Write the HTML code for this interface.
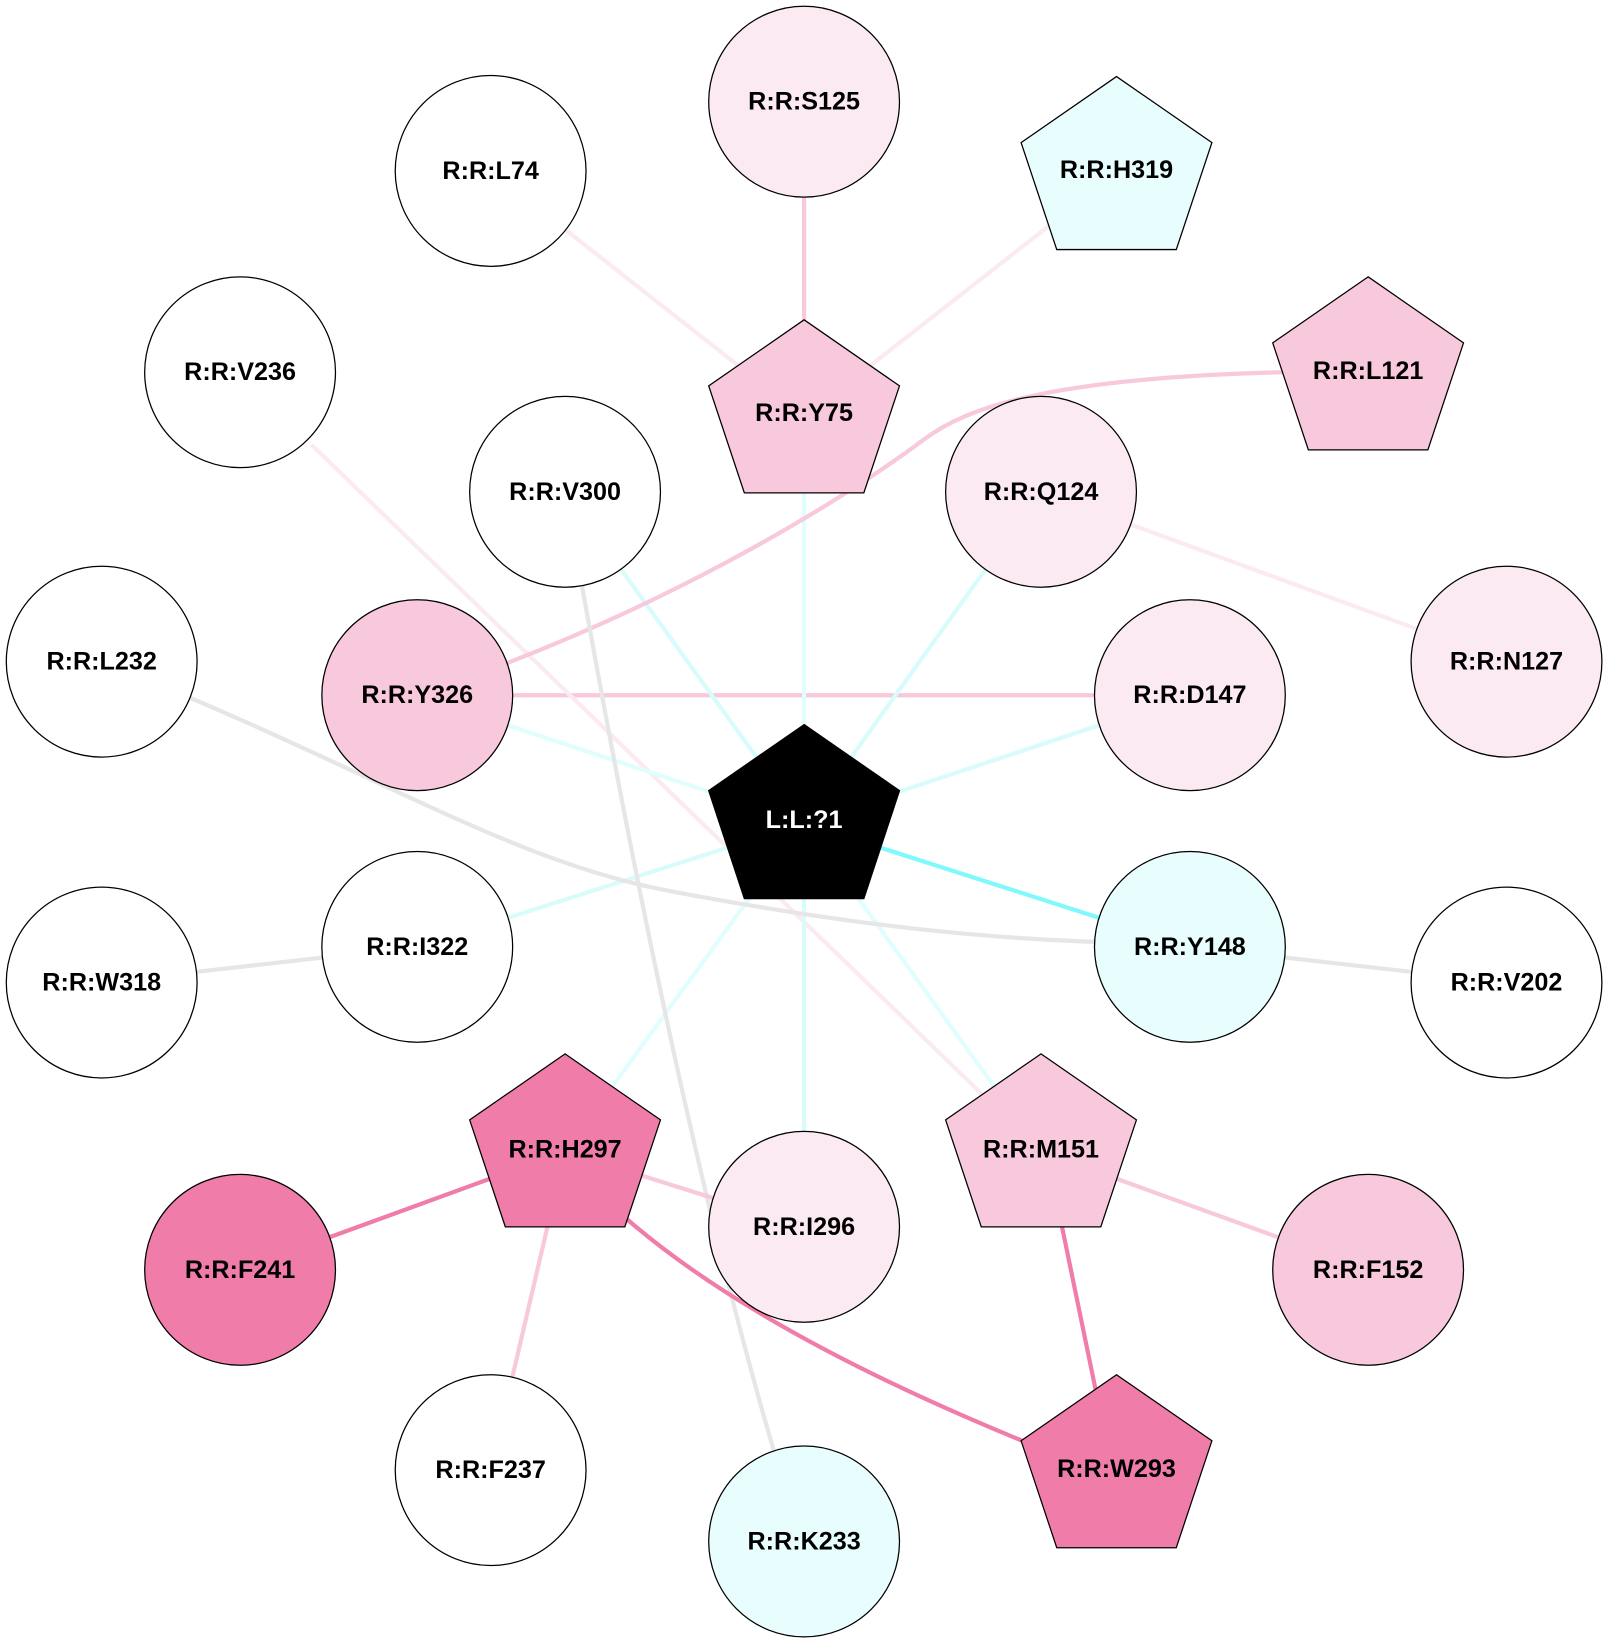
<!DOCTYPE html>
<html><head><style>html,body{margin:0;padding:0;background:#fff}svg{display:block}text{font-family:"Liberation Sans",Arial,sans-serif;font-weight:bold;font-size:24px;text-anchor:middle;dominant-baseline:central}</style></head><body>
<svg width="1604" height="1640" viewBox="0 0 1530 1564" preserveAspectRatio="none" xmlns="http://www.w3.org/2000/svg">
<g fill="none" stroke-width="4">
<line x1="767" y1="97" x2="767" y2="398" stroke="#f8c8dc"/>
<line x1="468" y1="163" x2="767" y2="398" stroke="#fbeaf2"/>
<line x1="1065" y1="165" x2="767" y2="398" stroke="#fbeaf2"/>
<line x1="993" y1="469" x2="1437" y2="631" stroke="#fbeaf2"/>
<line x1="398" y1="663" x2="1135" y2="663" stroke="#f8c8dc"/>
<line x1="297" y1="424" x2="993" y2="1098" stroke="#fbeaf2"/>
<g stroke="#e0fefe">
<line x1="767" y1="398" x2="767" y2="785"/>
<line x1="539" y1="469" x2="767" y2="785" stroke="#d8fcfc"/>
<line x1="993" y1="469" x2="767" y2="785" stroke="#d8fcfc"/>
<line x1="398" y1="663" x2="767" y2="785"/>
<line x1="1135" y1="663" x2="767" y2="785" stroke="#d8fcfc"/>
<line x1="398" y1="903" x2="767" y2="785" stroke="#d8fcfc"/>
<line x1="539" y1="1098" x2="767" y2="785"/>
<line x1="767" y1="1170" x2="767" y2="785" stroke="#d8fcfc"/>
<line x1="993" y1="1098" x2="767" y2="785"/>
</g>
<line x1="1135" y1="903" x2="767" y2="785" stroke="#80f8fc"/>
<path d="M1305,354 C1000,354 920,390 880,420 C800,480 620,590 398,663" stroke="#f8c8dc"/>
<path d="M97,631 C350,730 480,820 640,850 C800,880 950,900 1135,900" stroke="#e6e6e6"/>
<path d="M539,469 C570,640 640,1050 740,1390" stroke="#e6e6e6"/>
<line x1="97" y1="937" x2="398" y2="903" stroke="#e6e6e6"/>
<line x1="1135" y1="903" x2="1437" y2="937" stroke="#e6e6e6"/>
<line x1="539" y1="1098" x2="229" y2="1211" stroke="#f07caa"/>
<line x1="539" y1="1098" x2="767" y2="1170" stroke="#f8c8dc"/>
<line x1="539" y1="1098" x2="468" y2="1402" stroke="#f8c8dc"/>
<path d="M595,1160 Q720,1270 980,1376" stroke="#f07caa"/>
<line x1="1012" y1="1165" x2="1045" y2="1325" stroke="#f07caa"/>
<line x1="993" y1="1098" x2="1305" y2="1211" stroke="#f8c8dc"/>
</g>
<g stroke="#000" stroke-width="1.2">
<circle cx="767" cy="97" r="91" fill="#fbeaf2"/>
<circle cx="468" cy="163" r="91" fill="#fff"/>
<circle cx="229" cy="355" r="91" fill="#fff"/>
<circle cx="539" cy="469" r="91" fill="#fff"/>
<circle cx="993" cy="469" r="91" fill="#fbeaf2"/>
<circle cx="97" cy="631" r="91" fill="#fff"/>
<circle cx="398" cy="663" r="91" fill="#f8c8dc"/>
<circle cx="1135" cy="663" r="91" fill="#fbeaf2"/>
<circle cx="1437" cy="631" r="91" fill="#fbeaf2"/>
<circle cx="97" cy="937" r="91" fill="#fff"/>
<circle cx="398" cy="903" r="91" fill="#fff"/>
<circle cx="1135" cy="903" r="91" fill="#e8fdfd"/>
<circle cx="1437" cy="937" r="91" fill="#fff"/>
<circle cx="229" cy="1211" r="91" fill="#f07caa"/>
<circle cx="767" cy="1170" r="91" fill="#fbeaf2"/>
<circle cx="1305" cy="1211" r="91" fill="#f8c8dc"/>
<circle cx="468" cy="1402" r="91" fill="#fff"/>
<circle cx="767" cy="1470" r="91" fill="#e8fdfd"/>
<polygon points="1065,73 1156,136 1122,238 1008,238 974,136" fill="#e8fdfd"/>
<polygon points="767,305 858,368 824,470 710,470 676,368" fill="#f8c8dc"/>
<polygon points="1305,264 1396,327 1362,429 1248,429 1214,327" fill="#f8c8dc"/>
<polygon points="767,691 858,754 824,857 710,857 676,754" fill="#000"/>
<polygon points="539,1005 630,1068 596,1170 482,1170 448,1068" fill="#f07caa"/>
<polygon points="993,1005 1084,1068 1050,1170 936,1170 902,1068" fill="#f8c8dc"/>
<polygon points="1065,1311 1156,1374 1122,1476 1008,1476 974,1374" fill="#f07caa"/>
</g>
<text x="767" y="97">R:R:S125</text>
<text x="468" y="163">R:R:L74</text>
<text x="1065" y="162">R:R:H319</text>
<text x="229" y="355">R:R:V236</text>
<text x="767" y="394">R:R:Y75</text>
<text x="1305" y="354">R:R:L121</text>
<text x="539" y="469">R:R:V300</text>
<text x="993" y="469">R:R:Q124</text>
<text x="97" y="631">R:R:L232</text>
<text x="398" y="663">R:R:Y326</text>
<text x="1135" y="663">R:R:D147</text>
<text x="1437" y="631">R:R:N127</text>
<text x="767" y="782" fill="#fff">L:L:?1</text>
<text x="97" y="937">R:R:W318</text>
<text x="398" y="903">R:R:I322</text>
<text x="1135" y="903">R:R:Y148</text>
<text x="1437" y="937">R:R:V202</text>
<text x="539" y="1096">R:R:H297</text>
<text x="993" y="1096">R:R:M151</text>
<text x="229" y="1211">R:R:F241</text>
<text x="767" y="1170">R:R:I296</text>
<text x="1305" y="1211">R:R:F152</text>
<text x="468" y="1402">R:R:F237</text>
<text x="767" y="1470">R:R:K233</text>
<text x="1065" y="1401">R:R:W293</text>
</svg>
</body></html>
